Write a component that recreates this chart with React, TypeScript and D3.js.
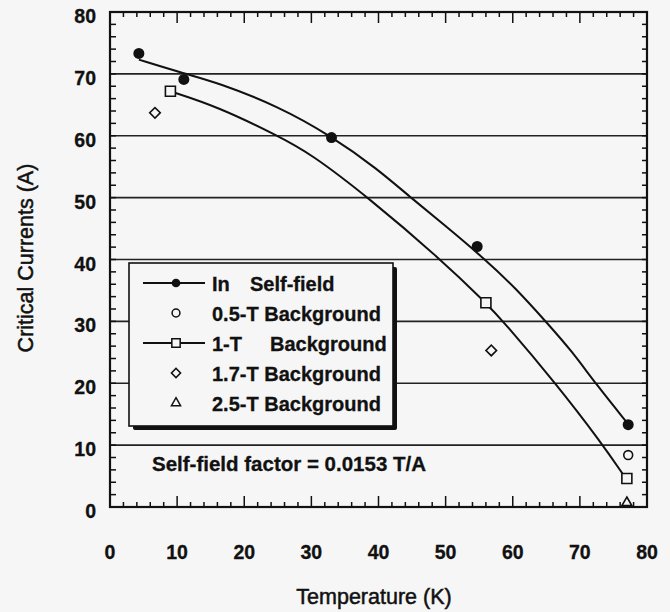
import { scaleLinear, line, curveBasis, symbol, symbolCircle, symbolSquare, symbolTriangle, range } from "d3";

const width = 670;
const height = 612;

// measured points (temperature K, current A)
const tempSelf = [4.3, 11, 33, 54.7, 77.2];
const currSelf = [73.3, 69.1, 59.7, 42.1, 13.3];
const temp05 = [77.2];
const curr05 = [8.4];
const temp1T = [9, 56, 77];
const curr1T = [67.2, 33.0, 4.6];
const temp17 = [6.7, 56.8];
const curr17 = [63.7, 25.3];
const temp25 = [77];
const curr25 = [0.7];

// fitted curves
const fitSelfT = [4.3, 11.2, 16, 25, 32.9, 39.9, 44.8, 49.8, 55.9, 60.4, 64.9, 68.8, 72.3, 77.2];
const fitSelfI = [72.3, 70.0, 68.6, 64.8, 60.0, 54.6, 50.0, 45.6, 40.0, 35.4, 30.0, 25.2, 20.0, 13.4];
const fit1T_T = [9.2, 16, 25, 29.9, 38.5, 49.3, 56, 58.6, 66.4, 73.2, 76.6];
const fit1T_I = [67.1, 64.7, 60.0, 57.1, 50.0, 40.0, 33.0, 30.0, 20.0, 10.4, 5.0];

const xTicks = [0, 10, 20, 30, 40, 50, 60, 70, 80];
const yTicks = [0, 10, 20, 30, 40, 50, 60, 70, 80];
const gridLines = [10, 20, 30, 40, 50, 60, 70];

const legendRows = [
  { kind: "self", a: "In", b: "Self-field", bx: 250 },
  { kind: "c05", a: "0.5-T Background", b: "", bx: 0 },
  { kind: "t1", a: "1-T", b: "Background", bx: 270 },
  { kind: "t17", a: "1.7-T Background", b: "", bx: 0 },
  { kind: "t25", a: "2.5-T Background", b: "", bx: 0 },
];

const bg = "#f6f6f6";
const ink = "#111";
const font = "'Liberation Sans', Arial, sans-serif";

const App = () => {
  const x = scaleLinear().domain([0, 80]).range([110, 647]);
  const y = scaleLinear().domain([0, 80]).range([507, 12]);

  const pathOf = (xs: number[], ys: number[]) =>
    line<number>()
      .x((d, i) => x(xs[i]))
      .y((d, i) => y(ys[i]))
      .curve(curveBasis)(xs) as string;

  const dot = symbol().type(symbolCircle).size(95)() as string;
  const ring = symbol().type(symbolCircle).size(62)() as string;
  const sq = symbol().type(symbolSquare).size(100)() as string;
  const dia = symbol().type(symbolSquare).size(56)() as string;
  const tri = symbol().type(symbolTriangle).size(42)() as string;

  const dotL = symbol().type(symbolCircle).size(60)() as string;
  const ringL = symbol().type(symbolCircle).size(48)() as string;
  const sqL = symbol().type(symbolSquare).size(70)() as string;
  const diaL = symbol().type(symbolSquare).size(42)() as string;
  const triL = symbol().type(symbolTriangle).size(36)() as string;

  const minor = range(0, 81, 2);
  const textStyle = { fontFamily: font, fill: ink, stroke: ink, strokeWidth: 0.3 };
  const boldStyle = { ...textStyle, fontWeight: 700 };

  const lx = 129, ly = 263, lw = 264, lh = 163;

  return (
    <svg width={width} height={height} style={{ position: "absolute", left: 0, top: 0 }}>
      <rect width={width} height={height} fill={bg} />

      {gridLines.map((g) => (
        <line key={g} x1={x(0)} x2={x(80)} y1={y(g)} y2={y(g)} stroke="#222" strokeWidth={1.6} />
      ))}

      {/* tick marks on all four sides, pointing inward */}
      {minor.map((t) => {
        const major = t % 10 === 0;
        const len = major ? 11 : 5;
        return (
          <g key={t} stroke={ink} strokeWidth={1.5}>
            <line x1={x(t)} x2={x(t)} y1={y(0)} y2={y(0) - len} />
            <line x1={x(t)} x2={x(t)} y1={y(80)} y2={y(80) + len} />
            <line x1={x(0)} x2={x(0) + 6} y1={y(t)} y2={y(t)} />
            <line x1={x(80)} x2={x(80) - 5} y1={y(t)} y2={y(t)} />
          </g>
        );
      })}

      <rect x={x(0)} y={y(80)} width={x(80) - x(0)} height={y(0) - y(80)} fill="none" stroke={ink} strokeWidth={2.2} />

      {xTicks.map((t) => (
        <text key={t} x={x(t)} y={559} textAnchor="middle" fontSize={19.5} style={boldStyle}>
          {t}
        </text>
      ))}
      {yTicks.map((t) => (
        <text key={t} x={96} y={y(t) + 11} textAnchor="end" fontSize={19.5} style={boldStyle}>
          {t}
        </text>
      ))}

      <text x={374} y={604} textAnchor="middle" fontSize={21.5} style={{ ...textStyle, strokeWidth: 0.5 }}>
        Temperature (K)
      </text>
      <text
        transform="translate(33,258) rotate(-90)"
        textAnchor="middle"
        fontSize={21.5}
        style={{ ...textStyle, strokeWidth: 0.5 }}
      >
        Critical Currents (A)
      </text>

      <path d={pathOf(fitSelfT, fitSelfI)} fill="none" stroke={ink} strokeWidth={2} />
      <path d={pathOf(fit1T_T, fit1T_I)} fill="none" stroke={ink} strokeWidth={2} />

      {tempSelf.map((t, i) => (
        <path key={"s" + i} d={dot} transform={`translate(${x(t)},${y(currSelf[i])})`} fill={ink} />
      ))}
      {temp05.map((t, i) => (
        <path key={"c" + i} d={ring} transform={`translate(${x(t)},${y(curr05[i])})`} fill={bg} stroke={ink} strokeWidth={1.6} />
      ))}
      {temp1T.map((t, i) => (
        <path key={"q" + i} d={sq} transform={`translate(${x(t)},${y(curr1T[i])})`} fill={bg} stroke={ink} strokeWidth={1.6} />
      ))}
      {temp17.map((t, i) => (
        <path key={"d" + i} d={dia} transform={`translate(${x(t)},${y(curr17[i])}) rotate(45)`} fill={bg} stroke={ink} strokeWidth={1.6} />
      ))}
      {temp25.map((t, i) => (
        <path key={"t" + i} d={tri} transform={`translate(${x(t)},${y(curr25[i])})`} fill={bg} stroke={ink} strokeWidth={1.6} />
      ))}

      {/* legend with drop shadow */}
      <rect x={lx + 4} y={ly + 4} width={lw} height={lh} fill={ink} rx={2} />
      <rect x={lx} y={ly} width={lw} height={lh} fill={bg} stroke={ink} strokeWidth={1.6} />
      {legendRows.map((r, i) => {
        const ry = ly + 20 + i * 30;
        const mx = 176;
        return (
          <g key={r.kind}>
            {(r.kind === "self" || r.kind === "t1") && (
              <line x1={143} x2={205} y1={ry} y2={ry} stroke={ink} strokeWidth={2} />
            )}
            {r.kind === "self" && <path d={dotL} transform={`translate(${mx},${ry})`} fill={ink} />}
            {r.kind === "c05" && <path d={ringL} transform={`translate(${mx},${ry})`} fill={bg} stroke={ink} strokeWidth={1.5} />}
            {r.kind === "t1" && <path d={sqL} transform={`translate(${mx},${ry})`} fill={bg} stroke={ink} strokeWidth={1.5} />}
            {r.kind === "t17" && <path d={diaL} transform={`translate(${mx},${ry}) rotate(45)`} fill={bg} stroke={ink} strokeWidth={1.5} />}
            {r.kind === "t25" && <path d={triL} transform={`translate(${mx},${ry})`} fill={bg} stroke={ink} strokeWidth={1.5} />}
            <text x={212} y={ry + 7.5} fontSize={20} style={boldStyle}>
              {r.a}
            </text>
            {r.b && (
              <text x={r.bx} y={ry + 7.5} fontSize={20} style={boldStyle}>
                {r.b}
              </text>
            )}
          </g>
        );
      })}

      <text x={152} y={471} fontSize={20.5} style={boldStyle}>
        Self-field factor = 0.0153 T/A
      </text>
    </svg>
  );
};

export default App;
